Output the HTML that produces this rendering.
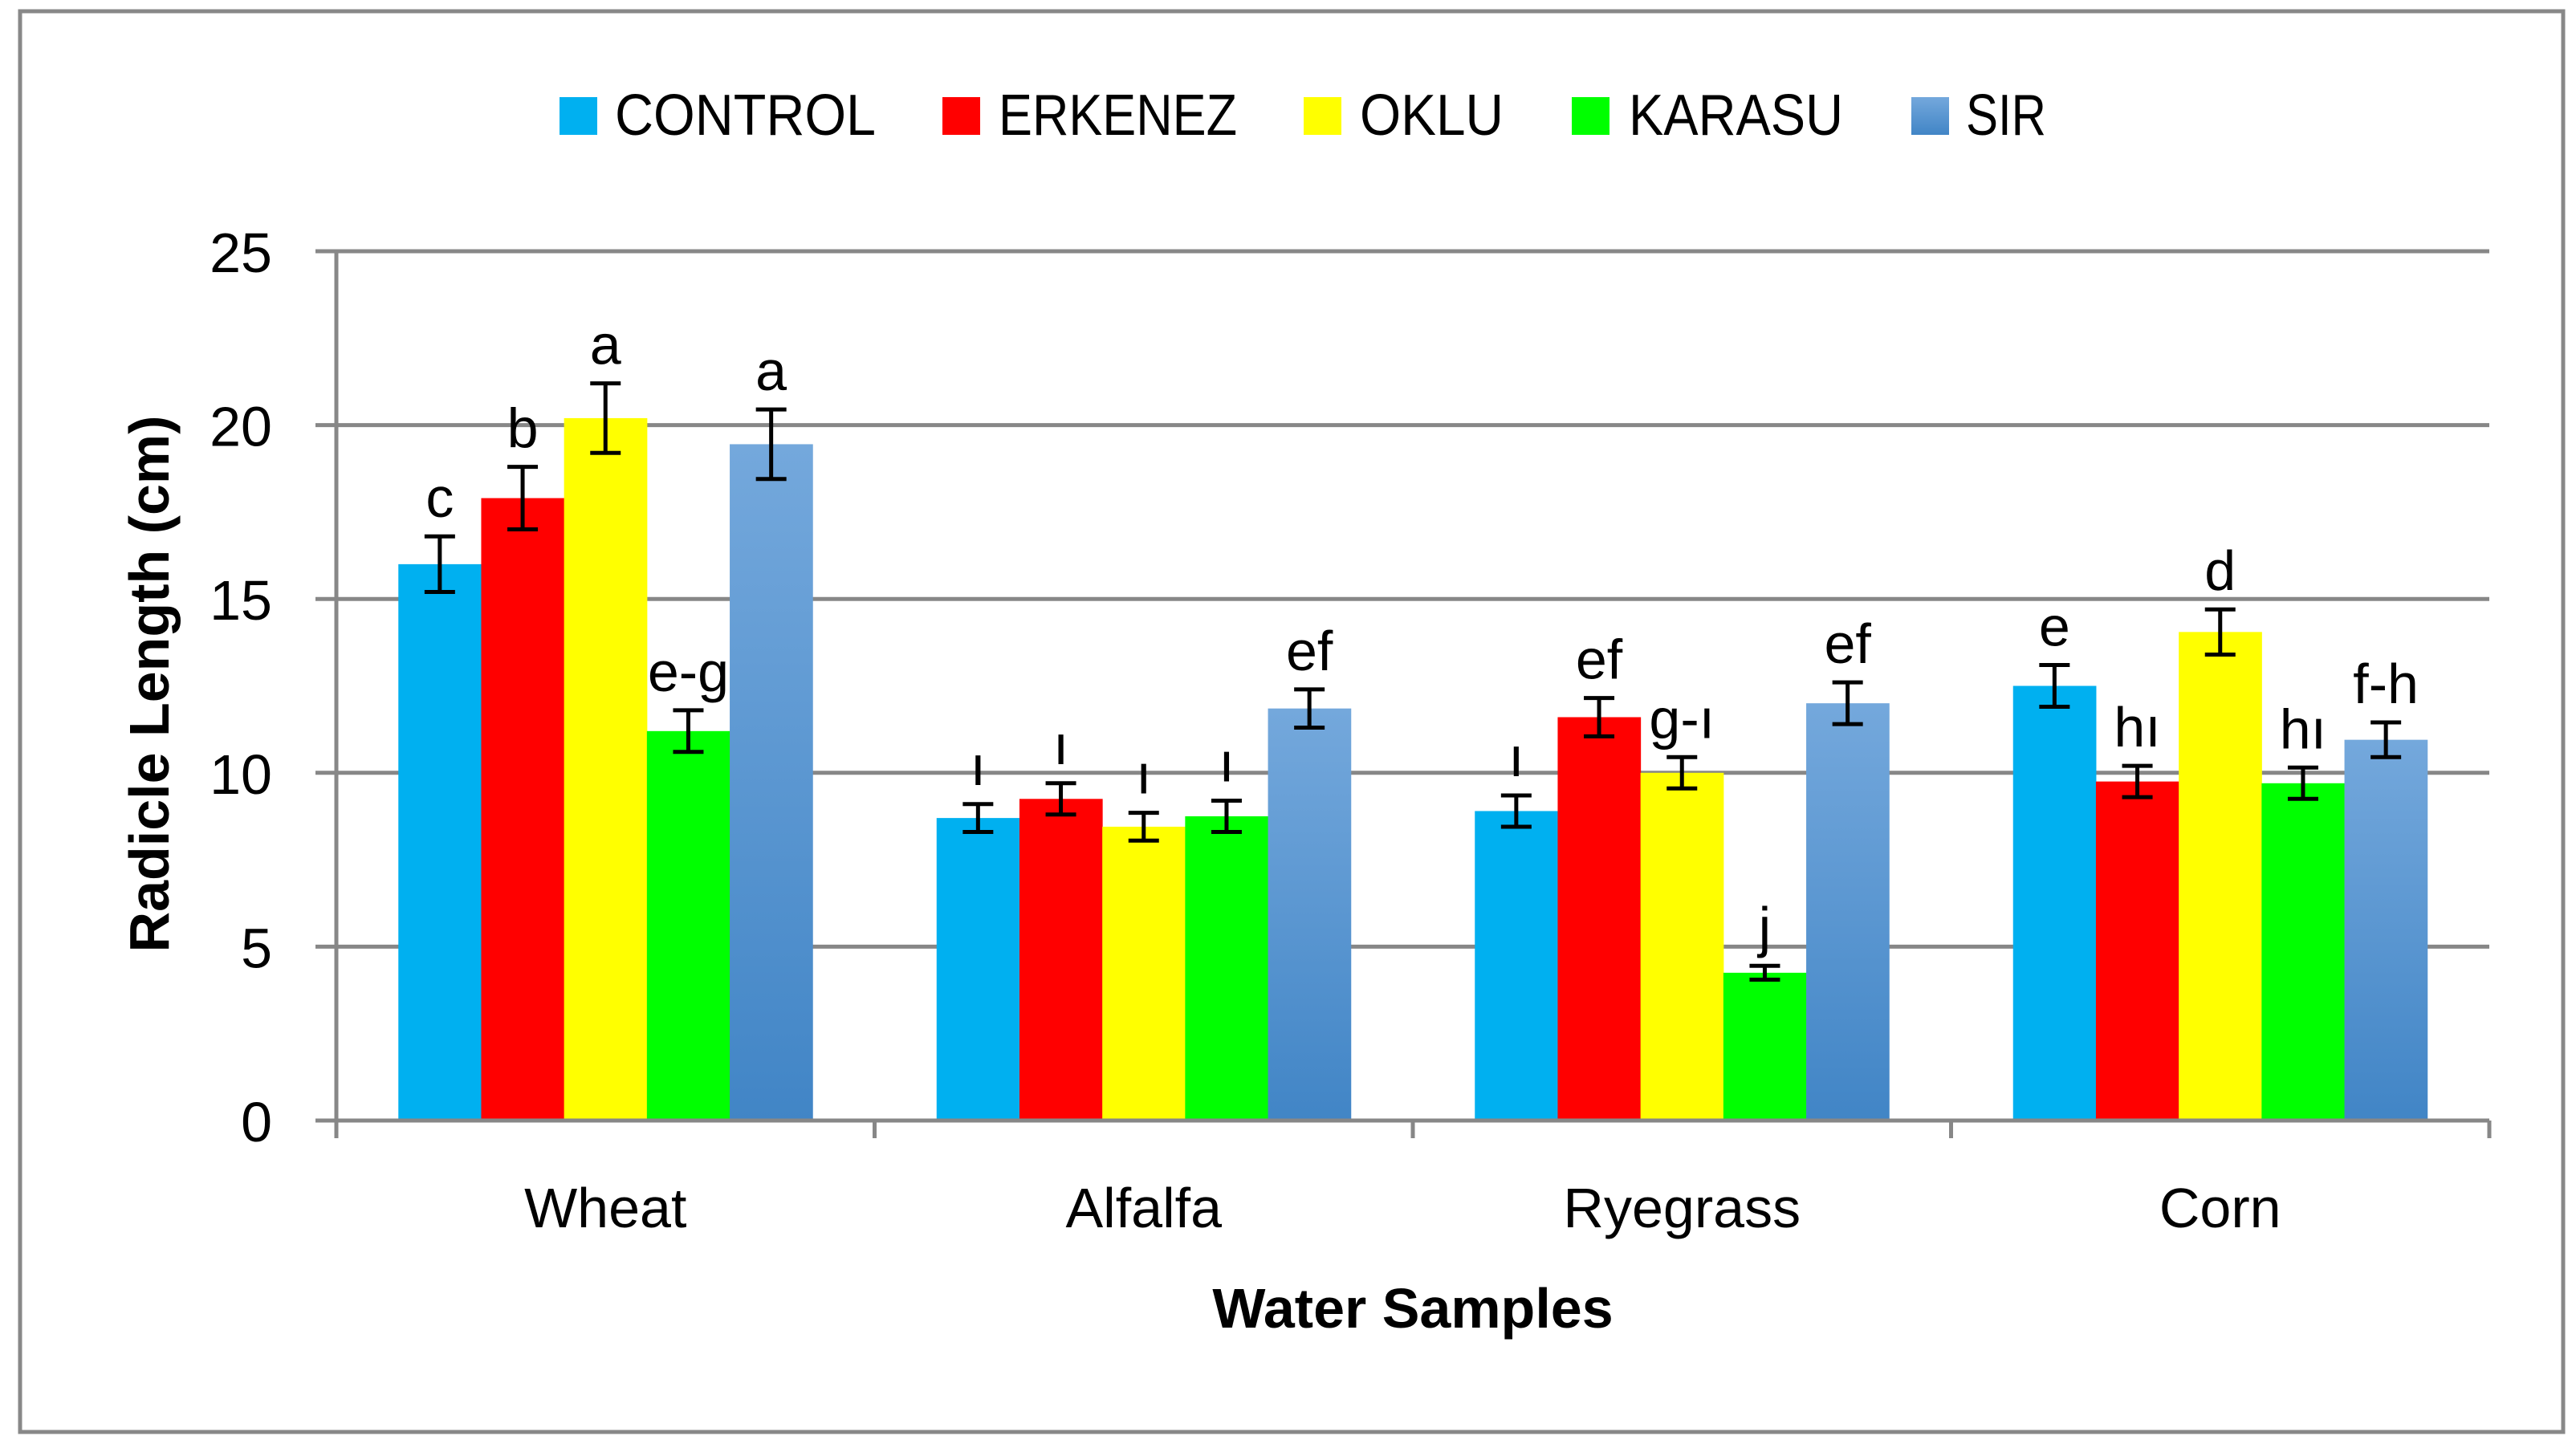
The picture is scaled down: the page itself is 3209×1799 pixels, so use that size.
<!DOCTYPE html>
<html><head><meta charset="utf-8"><style>
html,body{margin:0;padding:0;background:#fff;}
svg{display:block;font-family:"Liberation Sans",sans-serif;}
</style></head><body>
<svg id="chart" width="3209" height="1799" viewBox="0 0 3209 1799" xmlns="http://www.w3.org/2000/svg">
<defs>
<linearGradient id="sirGrad" x1="0" y1="0" x2="0" y2="1">
<stop offset="0" stop-color="#74a8dc"/><stop offset="1" stop-color="#4185c6"/>
</linearGradient>
</defs>
<rect x="25" y="14" width="3168" height="1770" fill="#fff" stroke="#888" stroke-width="5"/>
<g id="grid"></g><g id="bars"></g><g id="axes"></g><g id="labels"></g>
<g id="legend"></g>
<text x="1760" y="1654" font-size="70" font-weight="bold" text-anchor="middle">Water Samples</text>
<text transform="translate(210,852) rotate(-90)" font-size="70" font-weight="bold" text-anchor="middle">Radicle Length (cm)</text>
</svg>
<script>
const categories = ["Wheat","Alfalfa","Ryegrass","Corn"];
const seriesNames = ["CONTROL","ERKENEZ","OKLU","KARASU","SIR"];
const control = [16.0, 8.7, 8.9, 12.5];
const erkenez = [17.9, 9.25, 11.6, 9.75];
const oklu = [20.2, 8.45, 10.0, 14.05];
const karasu = [11.2, 8.75, 4.25, 9.7];
const sir = [19.45, 11.85, 12.0, 10.95];
const controlErr = [0.8, 0.4, 0.45, 0.6];
const erkenezErr = [0.9, 0.45, 0.55, 0.45];
const okluErr = [1.0, 0.4, 0.45, 0.65];
const karasuErr = [0.6, 0.45, 0.2, 0.45];
const sirErr = [1.0, 0.55, 0.6, 0.5];
const controlLetters = ["c","ı","ı","e"];
const erkenezLetters = ["b","ı","ef","hı"];
const okluLetters = ["a","ı","g-ı","d"];
const karasuLetters = ["e-g","ı","j","hı"];
const sirLetters = ["a","ef","ef","f-h"];
const yTicks = [0,5,10,15,20,25];

const series = [control, erkenez, oklu, karasu, sir];
const errs = [controlErr, erkenezErr, okluErr, karasuErr, sirErr];
const letters = [controlLetters, erkenezLetters, okluLetters, karasuLetters, sirLetters];
const colors = ["#00b0f0","#ff0000","#ffff00","#00ff00","url(#sirGrad)"];
const NS = "http://www.w3.org/2000/svg";
const X0 = 419, X1 = 3101, Y0 = 1396, Y25 = 313;
const y = v => Y0 - (v / 25) * (Y0 - Y25);
const groupW = (X1 - X0) / categories.length;
const barW = 103.2;
const xBar = (c, s) => X0 + groupW * c + groupW / 2 - barW * 2.5 + s * barW;
function mk(tag, attrs, parent, txt) {
  const e = document.createElementNS(NS, tag);
  for (const k in attrs) e.setAttribute(k, attrs[k]);
  if (txt !== undefined) e.textContent = txt;
  parent.appendChild(e);
  return e;
}
const grid = document.getElementById('grid');
const bars = document.getElementById('bars');
const axes = document.getElementById('axes');
const labels = document.getElementById('labels');
const legend = document.getElementById('legend');
yTicks.forEach(t => {
  const l = mk('line', {x1: 393, x2: X1, y1: y(t), y2: y(t), stroke: '#878787', 'stroke-width': 5}, grid);
  
  
  const tx = mk('text', {x: 339, y: y(t) + 26, 'font-size': 70, 'text-anchor': 'end'}, axes, String(t));
  
  
});
const ya = mk('line', {x1: X0, x2: X0, y1: Y25, y2: Y0 + 22, stroke: '#878787', 'stroke-width': 5}, axes);


for (let c = 0; c <= categories.length; c++) {
  const tk = mk('line', {x1: X0 + groupW * c, x2: X0 + groupW * c, y1: Y0, y2: Y0 + 22, stroke: '#878787', 'stroke-width': 5}, axes);
  
  
}
categories.forEach((cat, c) => {
  const t = mk('text', {x: X0 + groupW * c + groupW / 2, y: 1529, 'font-size': 70, 'text-anchor': 'middle'}, axes, cat);
  
  
  series.forEach((ser, s) => {
    const v = ser[c], e = errs[s][c], bx = xBar(c, s);
    const r = mk('rect', {x: bx, y: y(v), width: barW + 0.5, height: Y0 - y(v), fill: colors[s]}, bars);
    
    
    const cx = bx + barW / 2;
    const g = mk('g', {stroke: '#000', 'stroke-width': 5}, labels);
    
    
    mk('line', {x1: cx, x2: cx, y1: y(v + e), y2: y(v - e)}, g);
    mk('line', {x1: cx - 19, x2: cx + 19, y1: y(v + e), y2: y(v + e)}, g);
    mk('line', {x1: cx - 19, x2: cx + 19, y1: y(v - e), y2: y(v - e)}, g);
    const lt = mk('text', {x: cx, y: y(v + e) - 24, 'font-size': 70, 'text-anchor': 'middle'}, labels, letters[s][c]);
    
    
  });
});
const xa = mk('line', {x1: 393, x2: X1, y1: Y0, y2: Y0, stroke: '#878787', 'stroke-width': 5}, axes);


const legSq = [697, 1174, 1624, 1958, 2381];
const legTxt = [[766, 325], [1244, 297], [1694, 179], [2029, 267], [2449, 100]];
seriesNames.forEach((n, s) => {
  const g = mk('g', {}, legend);
  
  
  mk('rect', {x: legSq[s], y: 121, width: 47, height: 47, fill: colors[s]}, g);
  mk('text', {x: legTxt[s][0], y: 168, 'font-size': 72, textLength: legTxt[s][1], lengthAdjust: 'spacingAndGlyphs'}, g, n);
});
</script>
</body></html>
